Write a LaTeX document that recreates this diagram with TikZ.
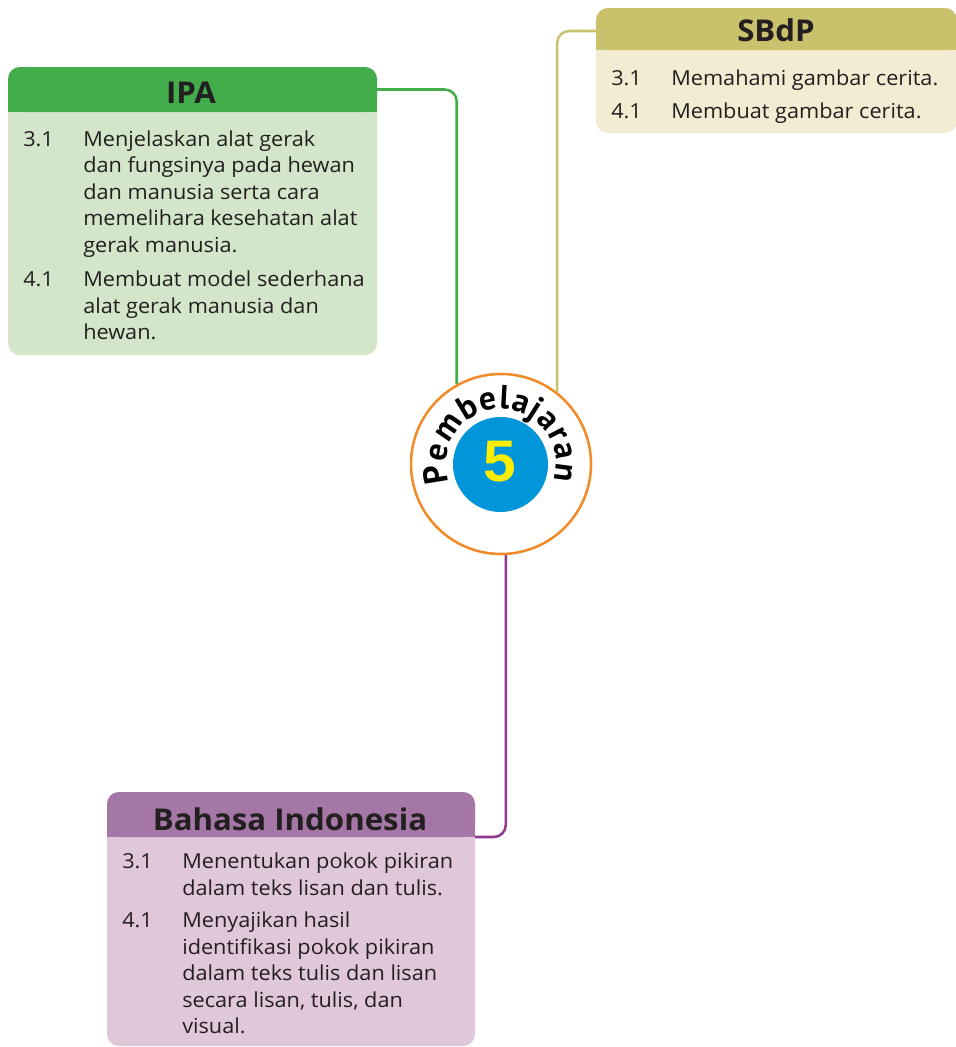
\documentclass[tikz,border=0pt]{standalone}
\usepackage{fontspec}
\setmainfont[FakeStretch=1.05]{Open Sans}
\newfontfamily\titlefont[FakeStretch=1.04]{Open Sans}
\newfontfamily\digitfont{Liberation Sans}
\newfontfamily\arcfont{PT Sans}
\usetikzlibrary{decorations.text,calc}
\definecolor{ipahc}{HTML}{42AD4A}
\definecolor{ipabc}{HTML}{D3E6CA}
\definecolor{sbhc}{HTML}{C9C16C}
\definecolor{sbbc}{HTML}{F2ECD2}
\definecolor{bihc}{HTML}{A577A6}
\definecolor{bibc}{HTML}{E0C7DA}
\definecolor{bilc}{HTML}{8E3B8F}
\definecolor{orangec}{HTML}{F08B2A}
\definecolor{bluec}{HTML}{0096D9}
\definecolor{yellowc}{HTML}{FFED00}
\definecolor{textc}{HTML}{231F20}
\tikzset{
  txt/.style={font=\fontsize{15.5}{19.9}\selectfont, inner sep=0pt, anchor=base west, text=textc},
  ttl/.style={font=\titlefont\bfseries\fontsize{22.5}{24}\selectfont, inner sep=0pt, anchor=base, text=textc},
  headbox/.style={inner sep=0pt, outer sep=0pt, rectangle},
  conn/.style={line width=1.9pt, rounded corners=9pt}
}
\begin{document}
\begin{tikzpicture}[x=0.75pt,y=0.75pt]
\useasboundingbox (0,0) rectangle (956,-1047);
\clip (0,0) rectangle (956,-1047);
\fill[white] (0,0) rectangle (956,-1047);
% IPA box
\fill[ipabc, rounded corners=9pt] (8,-67) rectangle (377,-355);
\fill[ipahc, rounded corners=9pt] (8,-67) rectangle (377,-112);
\fill[ipahc] (8,-90) rectangle (377,-112);
\node[headbox, minimum width=276.75pt, minimum height=33.75pt] (ipah) at (192.5,-89.5) {};
% SBdP box
\fill[sbbc, rounded corners=9pt] (596,-8) rectangle (957,-133);
\fill[sbhc, rounded corners=9pt] (596,-8) rectangle (957,-50);
\fill[sbhc] (596,-30) rectangle (957,-50);
\node[headbox, minimum width=270.75pt, minimum height=31.5pt] (sbh) at (776.5,-31) {};
% Bahasa box
\fill[bibc, rounded corners=9pt] (107,-792) rectangle (475,-1046);
\fill[bihc, rounded corners=9pt] (107,-792) rectangle (475,-837);
\fill[bihc] (107,-815) rectangle (475,-837);
\node[headbox, minimum width=276pt, minimum height=33.75pt] (bih) at (291,-814.5) {};
% centre
\node[circle, draw=orangec, line width=1.9pt, fill=white, minimum size=135pt, inner sep=0pt] (c) at (501,-464) {};
\node[circle, fill=bluec, minimum size=71.25pt, inner sep=0pt] (b) at (500.5,-464.5) {};
\node[font=\digitfont\bfseries\fontsize{44}{44}\selectfont, text=yellowc, inner sep=0pt] (five) at (500,-462) {5};
\path[decorate, decoration={text along path, text align=fit to path,
  text={|\arcfont\bfseries\fontsize{25}{25}\selectfont|Pembelajaran}}]
  (501,-464) ++(199:55) arc (199:-17:55);
% connectors
\draw[conn, ipahc] (ipah.east) -| (c.119.5);
\draw[conn, sbhc] (sbh.west) -| (c.52.3);
\draw[conn, bilc] (c.-87.5) |- (bih.south east);
% titles
\node[ttl] (ipat) at (191,-103) {IPA};
\node[ttl] (sbt) at (776,-41) {SBdP};
\node[ttl] (bit) at (290,-830) {Bahasa Indonesia};
% IPA text
\node[txt] (i1n) at (23,-146) {3.1};
\node[txt] (i1a) at (83,-146) {Menjelaskan alat gerak};
\node[txt] (i1b) at (83,-172.5) {dan fungsinya pada hewan};
\node[txt] (i1c) at (83,-199) {dan manusia serta cara};
\node[txt] (i1d) at (83,-225.5) {memelihara kesehatan alat};
\node[txt] (i1e) at (83,-252) {gerak manusia.};
\node[txt] (i2n) at (23,-286.5) {4.1};
\node[txt] (i2a) at (83,-286.5) {Membuat model sederhana};
\node[txt] (i2b) at (83,-313) {alat gerak manusia dan};
\node[txt] (i2c) at (83,-339.5) {hewan.};
% SBdP text
\node[txt] (s1n) at (611,-85) {3.1};
\node[txt] (s1a) at (671,-85) {Memahami gambar cerita.};
\node[txt] (s2n) at (611,-118) {4.1};
\node[txt] (s2a) at (671,-118) {Membuat gambar cerita.};
% Bahasa text
\node[txt] (b1n) at (122,-868) {3.1};
\node[txt] (b1a) at (182,-868) {Menentukan pokok pikiran};
\node[txt] (b1b) at (182,-895) {dalam teks lisan dan tulis.};
\node[txt] (b2n) at (122,-927) {4.1};
\node[txt] (b2a) at (182,-927) {Menyajikan hasil};
\node[txt] (b2b) at (182,-954) {identifikasi pokok pikiran};
\node[txt] (b2c) at (182,-980.5) {dalam teks tulis dan lisan};
\node[txt] (b2d) at (182,-1007) {secara lisan, tulis, dan};
\node[txt] (b2e) at (182,-1033.5) {visual.};
\end{tikzpicture}
\end{document}
